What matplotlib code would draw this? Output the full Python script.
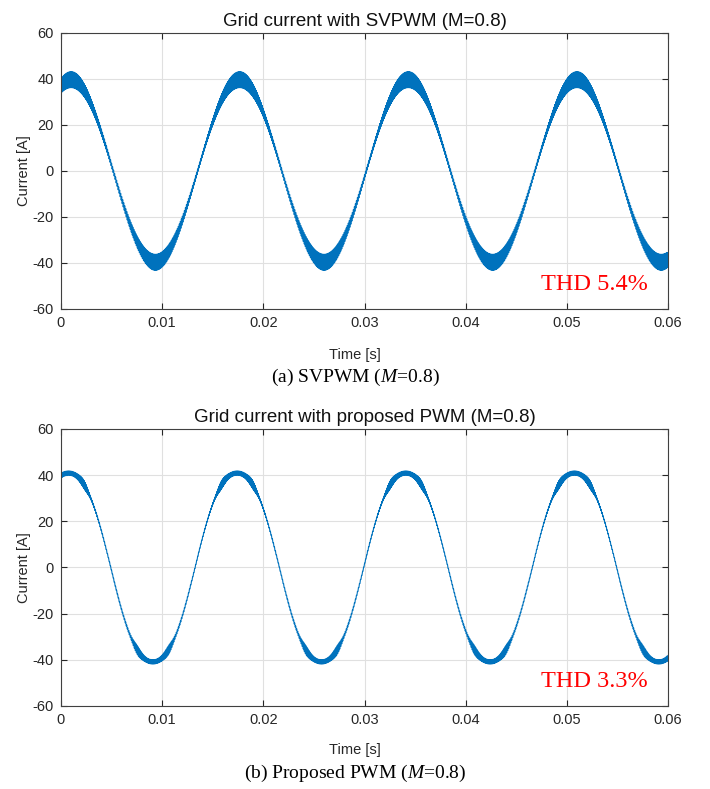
import numpy as np
import matplotlib
matplotlib.use("Agg")
import matplotlib.pyplot as plt

plt.rcParams["font.family"] = ["Liberation Sans", "DejaVu Sans"]
plt.rcParams["axes.unicode_minus"] = False
plt.rcParams["mathtext.fontset"] = "custom"
plt.rcParams["mathtext.rm"] = "Liberation Serif"
plt.rcParams["mathtext.it"] = "Liberation Serif:italic"

# values
titles = ["Grid current with SVPWM (M=0.8)", "Grid current with proposed PWM (M=0.8)"]
captions = [r"(a) SVPWM ($\it{M}$=0.8)", r"(b) Proposed PWM ($\it{M}$=0.8)"]
thd_labels = ["THD 5.4%", "THD 3.3%"]
grid_freq = 60.0          # Hz
switch_freq = 10000.0     # Hz, ripple
fund_amp = [39.7, 42.5]   # A
third_amp = [0.0, -1.6]   # A, flat-top shaping
peak_time = [0.0010, 0.00075]  # s, first positive peak
ripple_peak = [3.5, 0.8]  # A, ripple half-width at the crest
ripple_zero = [0.9, 0.45] # A, ripple half-width at zero crossing
ripple_bump = [0.0, 1.2]  # A, extra ripple around |i| ~ 32 A
x_ticks = [0, 0.01, 0.02, 0.03, 0.04, 0.05, 0.06]
x_tick_labels = ["0", "0.01", "0.02", "0.03", "0.04", "0.05", "0.06"]
y_ticks = [-60, -40, -20, 0, 20, 40, 60]

blue = "#0072BD"
t = np.arange(0, 0.06, 1 / (switch_freq * 24))
carrier = 2 * np.abs(2 * ((t * switch_freq) % 1) - 1) - 1

fig = plt.figure(figsize=(7.10, 7.89), dpi=100)
axes_pos = [[0.0859, 0.6084, 0.855, 0.3498], [0.0859, 0.1052, 0.855, 0.3511]]
caption_y = [0.522, 0.020]
xlabel_y = [0.550, 0.049]

for i in range(2):
    ax = fig.add_axes(axes_pos[i])
    theta = 2 * np.pi * grid_freq * (t - peak_time[i])
    c = np.abs(np.cos(theta))
    base = fund_amp[i] * np.cos(theta) + third_amp[i] * np.cos(3 * theta)
    ripple = ripple_zero[i] + (ripple_peak[i] - ripple_zero[i]) * c ** 2
    ripple = ripple + ripple_bump[i] * np.exp(-((c - 0.84) / 0.11) ** 2)
    current = base + ripple * carrier
    ax.plot(t, current, color=blue, lw=0.8)

    ax.set_xlim(0, 0.06)
    ax.set_ylim(-60, 60)
    ax.set_xticks(x_ticks)
    ax.set_xticklabels(x_tick_labels)
    ax.set_yticks(y_ticks)
    ax.grid(True, color="#e0e0e0", lw=0.8)
    ax.set_axisbelow(True)
    ax.tick_params(direction="in", top=True, right=True, labelsize=10.5,
                   colors="#262626", length=4, width=0.8, pad=5)
    for s in ax.spines.values():
        s.set_color("#404040")
        s.set_linewidth(0.8)
    ax.set_title(titles[i], fontsize=13.5, color="#111111", pad=5)
    ax.set_ylabel("Current [A]", fontsize=10.5, color="#262626", labelpad=1)
    ax.text(0.967, 0.09, thd_labels[i], transform=ax.transAxes, ha="right",
            va="center", color="red", fontsize=17.5, family="Liberation Serif")
    fig.text(0.5, xlabel_y[i], "Time [s]", ha="center", va="center",
             fontsize=10.5, color="#262626")
    fig.text(0.5, caption_y[i], captions[i], ha="center", va="center",
             fontsize=14, family="Liberation Serif")

fig.savefig("out.png", dpi=100)
